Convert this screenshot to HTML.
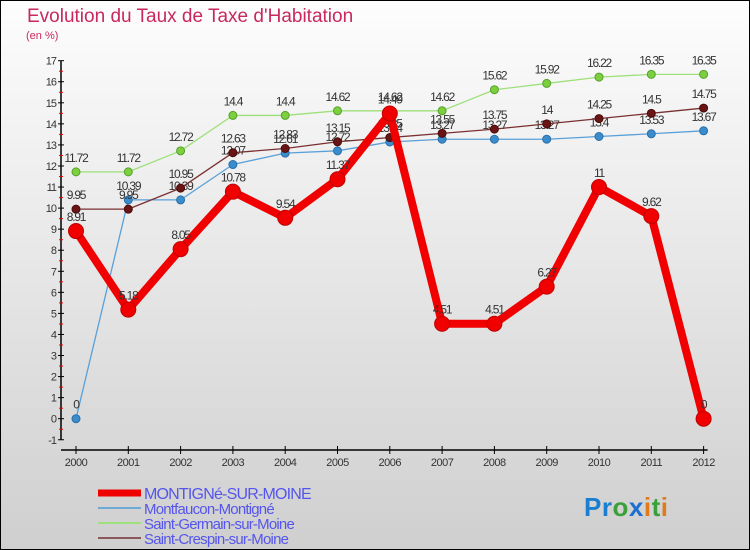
<!DOCTYPE html>
<html><head><meta charset="utf-8"><style>
html,body{margin:0;padding:0}
body{width:750px;height:550px;overflow:hidden;font-family:"Liberation Sans",sans-serif}
#wrap{position:relative;width:748px;height:548px;border:1px solid #000;background:linear-gradient(#fdfdfd,#cfcfcf)}
.t{position:absolute;color:#c8285f}
</style></head><body>
<div id="wrap">
<div class="t" style="left:26px;top:5px;font-size:19px">Evolution du Taux de Taxe d'Habitation</div>
<div class="t" style="left:25px;top:29px;font-size:11px">(en %)</div>
<svg id="chart" width="748" height="548" style="position:absolute;left:0;top:0"></svg>
</div>
<script>
const years=[2000,2001,2002,2003,2004,2005,2006,2007,2008,2009,2010,2011,2012];
const montigne=[8.91,5.18,8.05,10.78,9.54,11.37,14.49,4.51,4.51,6.27,11,9.62,0];
const montfaucon=[0,10.39,10.39,12.07,12.61,12.72,13.14,13.27,13.27,13.27,13.4,13.53,13.67];
const germain=[11.72,11.72,12.72,14.4,14.4,14.62,14.62,14.62,15.62,15.92,16.22,16.35,16.35];
const crespin=[9.95,9.95,10.95,12.63,12.83,13.15,13.35,13.55,13.75,14,14.25,14.5,14.75];
const yTicks=[-1,0,1,2,3,4,5,6,7,8,9,10,11,12,13,14,15,16,17];
const names=["MONTIGNé-SUR-MOINE","Montfaucon-Montigné","Saint-Germain-sur-Moine","Saint-Crespin-sur-Moine"];

const NS="http://www.w3.org/2000/svg";
const svg=document.getElementById('chart');
const X=i=>75+i*52.3;
const Y=v=>417.7-v*21.06;
function mk(tag,a,p){const e=document.createElementNS(NS,tag);for(const k in a)e.setAttribute(k,a[k]);(p||svg).appendChild(e);return e;}
function fmt(v){return String(v);}

let ax=mk('line',{x1:60,y1:Y(17),x2:60,y2:Y(-1),stroke:'#000','stroke-width':1.5});


let xa=mk('line',{x1:60,y1:449,x2:X(12)+4,y2:449,stroke:'#000','stroke-width':1.5});


yTicks.forEach(v=>{
  mk('line',{x1:57,y1:Y(v),x2:63,y2:Y(v),stroke:'#000'});
  if(v<17) mk('line',{x1:58,y1:Y(v)-10.5,x2:62,y2:Y(v)-10.5,stroke:'#e00'});
  const t=mk('text',{x:55,y:Y(v)+4,'text-anchor':'end','font-size':11,fill:'#333','letter-spacing':'-1'});
  t.textContent=v;
  
  
});
years.forEach((yr,i)=>{
  mk('line',{x1:X(i),y1:445,x2:X(i),y2:453,stroke:'#000'});
  const t=mk('text',{x:X(i),y:465,'text-anchor':'middle','font-size':11,fill:'#333','letter-spacing':'-0.5'});
  t.textContent=yr;
  
  
});

function series(data,color,w,r,dot,stroke,name){
  const g=mk('g',{});
  
  
  mk('polyline',{points:data.map((v,i)=>X(i)+','+Y(v)).join(' '),fill:'none',stroke:color,'stroke-width':w,'stroke-linejoin':'round'},g);
  data.forEach((v,i)=>{
    const c=mk('circle',{cx:X(i),cy:Y(v),r:r,fill:dot,stroke:stroke,'stroke-width':1},g);
    
    
    const t=mk('text',{x:X(i),y:Y(v)-10,'text-anchor':'middle','font-size':12,fill:'#333','letter-spacing':'-1.2'},g);
    t.textContent=fmt(v);
    
    
  });
}
series(montfaucon,'#5aa0d8',1.3,4,'#3a8ccc','#2a6fa8','series-montfaucon');
series(germain,'#9ee07a',1.3,4,'#7cd040','#55a02a','series-germain');
series(crespin,'#7a3030',1.3,4,'#6a1515','#4a0a0a','series-crespin');
series(montigne,'#f00000',8,7.5,'#f00000','#c00000','series-montigne');

const lc=['#f00000','#6fa9d6','#9ee07a','#8a5a5a'], lw=[7,2,2,2];
names.forEach((n,i)=>{
  const y=492+i*15;
  const g=mk('g',{});
  
  
  mk('line',{x1:97,y1:y,x2:140,y2:y,stroke:lc[i],'stroke-width':lw[i]},g);
  const t=mk('text',{x:143,y:y+6,'font-size':i==0?16:15,fill:'#5555ee','letter-spacing':'-0.8'},g);
  t.textContent=n;
});
const logo=mk('text',{x:583,y:515,'font-size':26,'font-weight':'bold','letter-spacing':'0.5'});


[['Pr','#1a7fd0'],['o','#3aa03a'],['x','#1a6fd0'],['i','#e07a1a'],['t','#3aa03a'],['i','#e07a1a']].forEach(([s,c])=>{const ts=mk('tspan',{fill:c},logo);ts.textContent=s;});
</script>
</body></html>
